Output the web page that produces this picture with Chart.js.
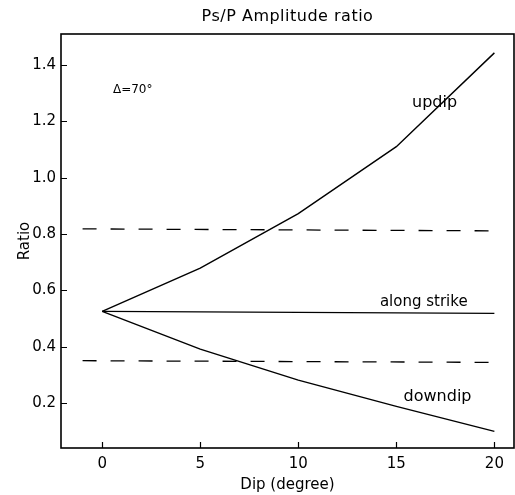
<!DOCTYPE html>
<html>
<head>
<meta charset="utf-8">
<script src="https://cdn.jsdelivr.net/npm/chart.js@4/dist/chart.umd.min.js"></script>
<style>
  html, body { margin: 0; padding: 0; background: #fff; }
  #wrap { width: 515px; height: 495px; }
</style>
</head>
<body>
<div id="wrap"><canvas id="c" width="515" height="495"></canvas></div>
<script>
// Dip angles (degrees) and Ps/P amplitude ratios
const dips = [0, 5, 10, 15, 20];
const updip = [0.525, 0.679, 0.872, 1.110, 1.443];
const alongStrike = [0.525, 0.518];
const alongStrikeDips = [0, 20];
const downdip = [0.525, 0.391, 0.281, 0.188, 0.099];

// Reference levels (dashed)
const refDips = [-1, 20];
const refUpper = [0.818, 0.811];
const refLower = [0.350, 0.344];

// Axis ticks
const xTicks = [0, 5, 10, 15, 20];
const yTicks = [0.2, 0.4, 0.6, 0.8, 1.0, 1.2, 1.4];

const chartTitle = 'Ps/P Amplitude ratio';
const FONT = "'DejaVu Sans', sans-serif";

function pts(xs, ys) { return xs.map((x, i) => ({ x: x, y: ys[i] })); }

const solid = { borderColor: '#000', borderWidth: 1.4, pointRadius: 0, showLine: true, fill: false, tension: 0 };
const dashed = Object.assign({}, solid, { borderDash: [14, 14], borderWidth: 1.3 });

// Text labels placed in data coordinates
const notes = [
  { text: 'updip', x: 16.95, y: 1.266, size: 16, align: 'center' },
  { text: 'along strike', x: 16.4, y: 0.558, size: 15, align: 'center' },
  { text: 'downdip', x: 17.1, y: 0.220, size: 16, align: 'center' },
  { text: '\u0394=70\u00b0', x: 0.55, y: 1.312, size: 12, align: 'left' }
];

const framePlugin = {
  id: 'frame',
  afterDatasetsDraw(chart) {
    const { ctx, chartArea: a, scales } = chart;
    ctx.save();
    ctx.strokeStyle = '#000';
    ctx.lineWidth = 1.6;
    ctx.strokeRect(a.left, a.top, a.right - a.left, a.bottom - a.top);
    ctx.lineWidth = 1.2;
    ctx.beginPath();
    xTicks.forEach(v => {
      const px = Math.round(scales.x.getPixelForValue(v)) + 0.5;
      ctx.moveTo(px, a.bottom); ctx.lineTo(px, a.bottom - 6);
    });
    yTicks.forEach(v => {
      const py = Math.round(scales.y.getPixelForValue(v)) + 0.5;
      ctx.moveTo(a.left, py); ctx.lineTo(a.left + 6, py);
    });
    ctx.stroke();
    ctx.fillStyle = '#000';
    ctx.textBaseline = 'middle';
    notes.forEach(n => {
      ctx.font = n.size + 'px ' + FONT;
      ctx.textAlign = n.align;
      ctx.fillText(n.text, scales.x.getPixelForValue(n.x), scales.y.getPixelForValue(n.y));
    });
    // Title centred over the plot area
    ctx.font = '16px ' + FONT;
    ctx.textAlign = 'center';
    if ('letterSpacing' in ctx) ctx.letterSpacing = '0.5px';
    ctx.fillText(chartTitle, (a.left + a.right) / 2, 17);
    ctx.restore();
  }
};

new Chart(document.getElementById('c'), {
  type: 'scatter',
  data: {
    datasets: [
      Object.assign({ label: 'updip', data: pts(dips, updip) }, solid),
      Object.assign({ label: 'along strike', data: pts(alongStrikeDips, alongStrike) }, solid),
      Object.assign({ label: 'downdip', data: pts(dips, downdip) }, solid),
      Object.assign({ label: 'upper level', data: pts(refDips, refUpper) }, dashed),
      Object.assign({ label: 'lower level', data: pts(refDips, refLower) }, dashed)
    ]
  },
  options: {
    responsive: false,
    animation: false,
    layout: { padding: { left: 0, right: 1, top: 34, bottom: 0 } },
    plugins: {
      legend: { display: false },
      tooltip: { enabled: false },
      title: { display: false }
    },
    scales: {
      x: {
        type: 'linear',
        min: -2.1, max: 21,
        grid: { display: false, drawTicks: false },
        border: { display: false },
        afterBuildTicks(s) { s.ticks = xTicks.map(v => ({ value: v })); },
        afterFit(s) { s.height = 47; },
        ticks: { color: '#000', font: { family: FONT, size: 15 }, padding: 7, maxRotation: 0,
                 callback: v => String(v) },
        title: { display: true, text: 'Dip (degree)', color: '#000', font: { family: FONT, size: 15 }, padding: { top: 0, bottom: 1 } }
      },
      y: {
        type: 'linear',
        min: 0.04, max: 1.51,
        grid: { display: false, drawTicks: false },
        border: { display: false },
        afterBuildTicks(s) { s.ticks = yTicks.map(v => ({ value: v })); },
        afterFit(s) { s.width = 61; },
        ticks: { color: '#000', font: { family: FONT, size: 15 }, padding: 5,
                 callback: v => Number(v).toFixed(1) },
        title: { display: true, text: 'Ratio', color: '#000', font: { family: FONT, size: 15 }, padding: { top: 16, bottom: 0 } }
      }
    }
  },
  plugins: [framePlugin]
});
</script>
</body>
</html>
